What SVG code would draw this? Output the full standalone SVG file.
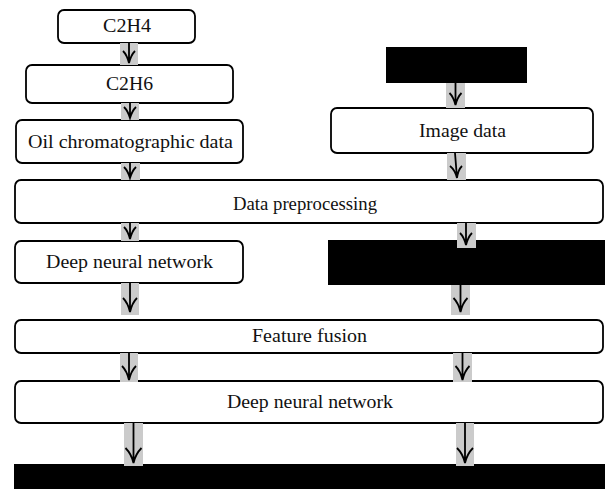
<svg xmlns="http://www.w3.org/2000/svg" width="605" height="489" viewBox="0 0 605 489">
<style>
.box{fill:#fff;stroke:#000;stroke-width:1.8}
.blk{fill:#000}
.bar{fill:#cbcbcb}
.t{font-family:'Liberation Serif','DejaVu Serif','Times New Roman',serif;font-size:18px;fill:#111}
.ln{stroke:#000;stroke-width:1.8;fill:none}
</style>
<rect width="605" height="489" fill="#fff"/>
<g id="n-c2h4"><rect class="box" x="58" y="10" width="137" height="33" rx="6"/><text class="t" font-family="Liberation Serif, DejaVu Serif, serif" x="103" y="32" textLength="48" lengthAdjust="spacingAndGlyphs">C2H4</text></g>
<g id="n-c2h6"><rect class="box" x="26" y="65" width="207" height="38" rx="6"/><text class="t" font-family="Liberation Serif, DejaVu Serif, serif" x="106" y="90" textLength="47" lengthAdjust="spacingAndGlyphs">C2H6</text></g>
<g id="n-oil"><rect class="box" x="16" y="120" width="227" height="43" rx="6"/><text class="t" font-family="Liberation Serif, DejaVu Serif, serif" x="28" y="148" textLength="205" lengthAdjust="spacingAndGlyphs">Oil chromatographic data</text></g>
<g id="n-top-right"><rect class="blk" x="386" y="47" width="141" height="36"/></g>
<g id="n-image"><rect class="box" x="331" y="108" width="262" height="45" rx="6"/><text class="t" font-family="Liberation Serif, DejaVu Serif, serif" x="419" y="137" textLength="87" lengthAdjust="spacingAndGlyphs">Image data</text></g>
<g id="n-preprocess"><rect class="box" x="15" y="180" width="588" height="43" rx="6"/><text class="t" font-family="Liberation Serif, DejaVu Serif, serif" x="233" y="210" textLength="144" lengthAdjust="spacingAndGlyphs">Data preprocessing</text></g>
<g id="n-dnn1"><rect class="box" x="15" y="241" width="228" height="42" rx="6"/><text class="t" font-family="Liberation Serif, DejaVu Serif, serif" x="46" y="268" textLength="167" lengthAdjust="spacingAndGlyphs">Deep neural network</text></g>
<g id="n-mid-right"><rect class="blk" x="328" y="240" width="277" height="45"/></g>
<g id="n-fusion"><rect class="box" x="15" y="320" width="588" height="33" rx="6"/><text class="t" font-family="Liberation Serif, DejaVu Serif, serif" x="252" y="342" textLength="115" lengthAdjust="spacingAndGlyphs">Feature fusion</text></g>
<g id="n-dnn2"><rect class="box" x="15" y="381" width="588" height="42" rx="6"/><text class="t" font-family="Liberation Serif, DejaVu Serif, serif" x="227" y="408" textLength="166" lengthAdjust="spacingAndGlyphs">Deep neural network</text></g>
<g id="n-bottom"><rect class="blk" x="14" y="464" width="591" height="25"/></g>
<g id="connectors">
<rect class="bar" x="120" y="43" width="18" height="22"/>
<rect class="bar" x="121" y="103" width="18" height="17"/>
<rect class="bar" x="121" y="163" width="19" height="17"/>
<rect class="bar" x="446" y="83" width="19" height="25"/>
<rect class="bar" x="447" y="153" width="19" height="27"/>
<rect class="bar" x="121" y="223" width="18" height="18"/>
<rect class="bar" x="457" y="223" width="19" height="25"/>
<rect class="bar" x="121" y="283" width="18" height="32"/>
<rect class="bar" x="451" y="285" width="19" height="30"/>
<rect class="bar" x="120" y="353" width="18" height="29"/>
<rect class="bar" x="453" y="353" width="19" height="29"/>
<rect class="bar" x="124" y="423" width="19" height="43"/>
<rect class="bar" x="456" y="423" width="18" height="43"/>
<path class="ln" d="M129 43V63M123 51Q127 55 129 63Q131 55 135 51"/>
<path class="ln" d="M130 103V118M124 107Q128 111 130 118Q132 111 136 107"/>
<path class="ln" d="M130 163V178M124 167Q128 171 130 178Q132 171 136 167"/>
<path class="ln" d="M455.5 83V105M449.5 93Q453.5 97 455.5 105Q457.5 97 461.5 93"/>
<path class="ln" d="M455 153L457 178M450 166Q455 170 457 178Q458 170 462 166"/>
<path class="ln" d="M130 223V239M124 227Q128 231 130 239Q132 231 136 227"/>
<path class="ln" d="M466 223V245M460 233Q464 237 466 245Q468 237 472 233"/>
<path class="ln" d="M130 283V312M123 298Q128 303 130 312Q132 303 137 298"/>
<path class="ln" d="M460.5 285V312M453.5 298Q458.5 303 460.5 312Q462.5 303 467.5 298"/>
<path class="ln" d="M129 353V380M122 366Q127 371 129 380Q131 371 136 366"/>
<path class="ln" d="M462.5 353V380M455.5 366Q460.5 371 462.5 380Q464.5 371 469.5 366"/>
<path class="ln" d="M133.5 423V463M125.5 448Q131.5 454 133.5 463Q135.5 454 141.5 448"/>
<path class="ln" d="M465 423V463M457 448Q463 454 465 463Q467 454 473 448"/>
</g>
</svg>
